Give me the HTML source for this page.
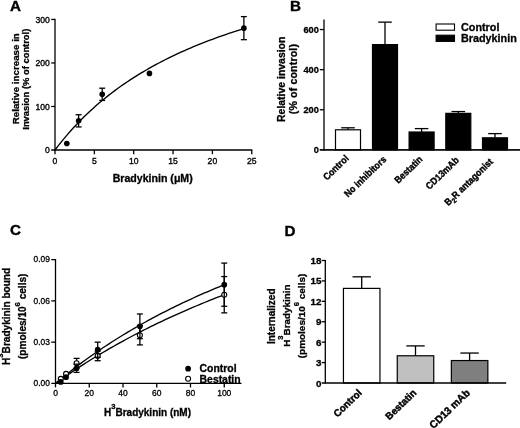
<!DOCTYPE html>
<html><head><meta charset="utf-8"><title>Figure</title>
<style>
html,body{margin:0;padding:0;background:#fff;}
body{width:520px;height:428px;overflow:hidden;}
svg{display:block;will-change:transform;}
text{font-family:"Liberation Sans",sans-serif;fill:#000;}
.b{font-weight:bold;stroke:#000;stroke-width:0.3px;}
.ax{stroke:#000;stroke-width:1.3;fill:none;}
.eb{stroke:#000;stroke-width:1.3;fill:none;}
.cv{stroke:#000;stroke-width:1.35;fill:none;}
</style></head><body>
<svg width="520" height="428" viewBox="0 0 520 428">
<rect width="520" height="428" fill="#fff"/>
<!-- Panel A -->
<text class="b" x="10.00" y="11.40" font-size="15.2" text-anchor="start" style="stroke:#000;stroke-width:0.4px">A</text>
<line class="ax" x1="55.00" y1="18.84" x2="55.00" y2="150.60"/>
<line class="ax" x1="51.20" y1="150.00" x2="252.35" y2="150.00"/>
<text x="49.80" y="153.10" font-size="8.6" text-anchor="end" style="stroke:#000;stroke-width:0.35px">0</text>
<line class="ax" x1="51.20" y1="106.48" x2="55.00" y2="106.48"/>
<text x="49.80" y="109.58" font-size="8.6" text-anchor="end" style="stroke:#000;stroke-width:0.35px">100</text>
<line class="ax" x1="51.20" y1="62.96" x2="55.00" y2="62.96"/>
<text x="49.80" y="66.06" font-size="8.6" text-anchor="end" style="stroke:#000;stroke-width:0.35px">200</text>
<line class="ax" x1="51.20" y1="19.44" x2="55.00" y2="19.44"/>
<text x="49.80" y="22.54" font-size="8.6" text-anchor="end" style="stroke:#000;stroke-width:0.35px">300</text>
<line class="ax" x1="55.00" y1="150.00" x2="55.00" y2="154.20"/>
<text x="55.00" y="163.50" font-size="8.6" text-anchor="middle" style="stroke:#000;stroke-width:0.35px">0</text>
<line class="ax" x1="94.35" y1="150.00" x2="94.35" y2="154.20"/>
<text x="94.35" y="163.50" font-size="8.6" text-anchor="middle" style="stroke:#000;stroke-width:0.35px">5</text>
<line class="ax" x1="133.70" y1="150.00" x2="133.70" y2="154.20"/>
<text x="133.70" y="163.50" font-size="8.6" text-anchor="middle" style="stroke:#000;stroke-width:0.35px">10</text>
<line class="ax" x1="173.05" y1="150.00" x2="173.05" y2="154.20"/>
<text x="173.05" y="163.50" font-size="8.6" text-anchor="middle" style="stroke:#000;stroke-width:0.35px">15</text>
<line class="ax" x1="212.40" y1="150.00" x2="212.40" y2="154.20"/>
<text x="212.40" y="163.50" font-size="8.6" text-anchor="middle" style="stroke:#000;stroke-width:0.35px">20</text>
<line class="ax" x1="251.75" y1="150.00" x2="251.75" y2="154.20"/>
<text x="251.75" y="163.50" font-size="8.6" text-anchor="middle" style="stroke:#000;stroke-width:0.35px">25</text>
<polyline class="cv" points="55.00,150.00 58.15,145.89 61.30,141.92 64.44,138.09 67.59,134.38 70.74,130.79 73.89,127.32 77.04,123.96 80.18,120.71 83.33,117.55 86.48,114.49 89.63,111.52 92.78,108.63 95.92,105.83 99.07,103.11 102.22,100.47 105.37,97.90 108.52,95.40 111.66,92.97 114.81,90.60 117.96,88.29 121.11,86.04 124.26,83.85 127.40,81.72 130.55,79.64 133.70,77.61 136.85,75.63 140.00,73.70 143.14,71.81 146.29,69.97 149.44,68.17 152.59,66.41 155.74,64.69 158.88,63.01 162.03,61.37 165.18,59.76 168.33,58.19 171.48,56.65 174.62,55.14 177.77,53.67 180.92,52.23 184.07,50.81 187.22,49.43 190.36,48.07 193.51,46.74 196.66,45.44 199.81,44.16 202.96,42.90 206.10,41.67 209.25,40.47 212.40,39.29 215.55,38.12 218.70,36.98 221.84,35.86 224.99,34.77 228.14,33.69 231.29,32.63 234.44,31.59 237.58,30.56 240.73,29.56 243.88,28.57"/>
<circle cx="66.81" cy="143.47" r="2.8" fill="#000"/>
<line class="eb" x1="78.61" y1="114.75" x2="78.61" y2="126.93"/>
<line class="eb" x1="75.61" y1="114.75" x2="81.61" y2="114.75"/>
<line class="eb" x1="75.61" y1="126.93" x2="81.61" y2="126.93"/>
<circle cx="78.61" cy="120.84" r="2.8" fill="#000"/>
<line class="eb" x1="102.22" y1="88.20" x2="102.22" y2="100.39"/>
<line class="eb" x1="99.22" y1="88.20" x2="105.22" y2="88.20"/>
<line class="eb" x1="99.22" y1="100.39" x2="105.22" y2="100.39"/>
<circle cx="102.22" cy="94.29" r="2.8" fill="#000"/>
<circle cx="149.44" cy="73.40" r="2.8" fill="#000"/>
<line class="eb" x1="243.88" y1="16.61" x2="243.88" y2="39.68"/>
<line class="eb" x1="240.88" y1="16.61" x2="246.88" y2="16.61"/>
<line class="eb" x1="240.88" y1="39.68" x2="246.88" y2="39.68"/>
<circle cx="243.88" cy="28.14" r="2.8" fill="#000"/>
<text class="b" transform="translate(18.50,78.70) rotate(-90)" font-size="9.75" text-anchor="middle">Relative increase in</text>
<text class="b" transform="translate(29.00,79.20) rotate(-90)" font-size="9.4" text-anchor="middle">Invasion (% of control)</text>
<text class="b" x="152.70" y="181.70" font-size="10.6" text-anchor="middle">Bradykinin (&#956;M)</text>
<!-- Panel B -->
<text class="b" x="290.00" y="11.30" font-size="15.2" text-anchor="start" style="stroke:#000;stroke-width:0.4px">B</text>
<line class="ax" x1="324.00" y1="19.50" x2="324.00" y2="150.45"/>
<line class="ax" x1="319.80" y1="149.85" x2="520.00" y2="149.85"/>
<text class="b" x="318.80" y="153.15" font-size="9.2" text-anchor="end" style="stroke:#000;stroke-width:0.3px">0</text>
<line class="ax" x1="319.80" y1="109.75" x2="324.00" y2="109.75"/>
<text class="b" x="318.80" y="113.05" font-size="9.2" text-anchor="end" style="stroke:#000;stroke-width:0.3px">200</text>
<line class="ax" x1="319.80" y1="69.65" x2="324.00" y2="69.65"/>
<text class="b" x="318.80" y="72.95" font-size="9.2" text-anchor="end" style="stroke:#000;stroke-width:0.3px">400</text>
<line class="ax" x1="319.80" y1="29.55" x2="324.00" y2="29.55"/>
<text class="b" x="318.80" y="32.85" font-size="9.2" text-anchor="end" style="stroke:#000;stroke-width:0.3px">600</text>
<line class="eb" x1="348.00" y1="127.79" x2="348.00" y2="129.80"/>
<line class="eb" x1="341.20" y1="127.79" x2="354.80" y2="127.79"/>
<rect x="335.50" y="129.80" width="25.0" height="20.05" fill="#fff" stroke="#000" stroke-width="1.2"/>
<text class="b" transform="translate(349.40,159.15) rotate(-44) scale(0.905,1)" font-size="9.7" text-anchor="end" style="stroke:#000;stroke-width:0.4px">Control</text>
<line class="eb" x1="385.00" y1="22.13" x2="385.00" y2="44.59"/>
<line class="eb" x1="378.20" y1="22.13" x2="391.80" y2="22.13"/>
<rect x="372.50" y="44.59" width="25.0" height="105.26" fill="#000" stroke="#000" stroke-width="1.2"/>
<text class="b" transform="translate(386.90,160.15) rotate(-44) scale(0.905,1)" font-size="9.7" text-anchor="end" style="stroke:#000;stroke-width:0.4px">No inhibitors</text>
<line class="eb" x1="421.60" y1="128.60" x2="421.60" y2="132.01"/>
<line class="eb" x1="414.80" y1="128.60" x2="428.40" y2="128.60"/>
<rect x="409.10" y="132.01" width="25.0" height="17.84" fill="#000" stroke="#000" stroke-width="1.2"/>
<text class="b" transform="translate(423.20,160.05) rotate(-44) scale(0.905,1)" font-size="9.7" text-anchor="end" style="stroke:#000;stroke-width:0.4px">Bestatin</text>
<line class="eb" x1="458.30" y1="111.55" x2="458.30" y2="113.36"/>
<line class="eb" x1="451.50" y1="111.55" x2="465.10" y2="111.55"/>
<rect x="445.80" y="113.36" width="25.0" height="36.49" fill="#000" stroke="#000" stroke-width="1.2"/>
<text class="b" transform="translate(459.70,160.85) rotate(-44) scale(0.905,1)" font-size="9.7" text-anchor="end" style="stroke:#000;stroke-width:0.4px">CD13mAb</text>
<line class="eb" x1="495.00" y1="133.61" x2="495.00" y2="137.82"/>
<line class="eb" x1="488.20" y1="133.61" x2="501.80" y2="133.61"/>
<rect x="482.50" y="137.82" width="25.0" height="12.03" fill="#000" stroke="#000" stroke-width="1.2"/>
<text class="b" transform="translate(493.70,162.45) rotate(-44) scale(0.905,1)" font-size="9.7" text-anchor="end" style="stroke:#000;stroke-width:0.4px">B<tspan dy="2.2" font-size="7">2</tspan><tspan dy="-2.2">R antagonist</tspan></text>
<line class="ax" x1="319.80" y1="149.85" x2="520.00" y2="149.85"/>
<rect x="436.1" y="24" width="18.4" height="6.2" fill="#fff" stroke="#000" stroke-width="1.1"/>
<rect x="436.1" y="35.2" width="18.4" height="6.2" fill="#000" stroke="#000" stroke-width="1.1"/>
<text class="b" x="461.00" y="30.60" font-size="10.8" text-anchor="start">Control</text>
<text class="b" x="461.00" y="41.90" font-size="10.8" text-anchor="start">Bradykinin</text>
<text class="b" transform="translate(285.40,79.30) rotate(-90)" font-size="10.45" text-anchor="middle">Relative invasion</text>
<text class="b" transform="translate(297.20,79.10) rotate(-90)" font-size="10.6" text-anchor="middle" letter-spacing="0.15">(% of control)</text>
<!-- Panel C -->
<text class="b" x="10.00" y="235.20" font-size="15.2" text-anchor="start" style="stroke:#000;stroke-width:0.4px">C</text>
<line class="ax" x1="55.50" y1="259.05" x2="55.50" y2="384.00"/>
<line class="ax" x1="51.30" y1="383.40" x2="241.50" y2="383.40"/>
<text x="49.90" y="386.00" font-size="8.4" text-anchor="end" style="stroke:#000;stroke-width:0.3px">0.00</text>
<line class="ax" x1="51.30" y1="342.15" x2="55.50" y2="342.15"/>
<text x="49.90" y="344.75" font-size="8.4" text-anchor="end" style="stroke:#000;stroke-width:0.3px">0.03</text>
<line class="ax" x1="51.30" y1="300.90" x2="55.50" y2="300.90"/>
<text x="49.90" y="303.50" font-size="8.4" text-anchor="end" style="stroke:#000;stroke-width:0.3px">0.06</text>
<line class="ax" x1="51.30" y1="259.65" x2="55.50" y2="259.65"/>
<text x="49.90" y="262.25" font-size="8.4" text-anchor="end" style="stroke:#000;stroke-width:0.3px">0.09</text>
<line class="ax" x1="55.50" y1="383.40" x2="55.50" y2="387.40"/>
<text x="55.50" y="396.30" font-size="8.5" text-anchor="middle" style="stroke:#000;stroke-width:0.3px">0</text>
<line class="ax" x1="89.25" y1="383.40" x2="89.25" y2="387.40"/>
<text x="89.25" y="396.30" font-size="8.5" text-anchor="middle" style="stroke:#000;stroke-width:0.3px">20</text>
<line class="ax" x1="123.00" y1="383.40" x2="123.00" y2="387.40"/>
<text x="123.00" y="396.30" font-size="8.5" text-anchor="middle" style="stroke:#000;stroke-width:0.3px">40</text>
<line class="ax" x1="156.75" y1="383.40" x2="156.75" y2="387.40"/>
<text x="156.75" y="396.30" font-size="8.5" text-anchor="middle" style="stroke:#000;stroke-width:0.3px">60</text>
<line class="ax" x1="190.50" y1="383.40" x2="190.50" y2="387.40"/>
<text x="190.50" y="396.30" font-size="8.5" text-anchor="middle" style="stroke:#000;stroke-width:0.3px">80</text>
<line class="ax" x1="224.25" y1="383.40" x2="224.25" y2="387.40"/>
<text x="224.25" y="396.30" font-size="8.5" text-anchor="middle" style="stroke:#000;stroke-width:0.3px">100</text>
<polyline class="cv" points="55.50,383.40 58.31,381.04 61.12,378.72 63.94,376.44 66.75,374.18 69.56,371.96 72.38,369.77 75.19,367.61 78.00,365.48 80.81,363.37 83.62,361.30 86.44,359.26 89.25,357.24 92.06,355.25 94.88,353.29 97.69,351.35 100.50,349.44 103.31,347.56 106.12,345.69 108.94,343.86 111.75,342.04 114.56,340.25 117.38,338.49 120.19,336.74 123.00,335.02 125.81,333.31 128.62,331.63 131.44,329.97 134.25,328.33 137.06,326.71 139.88,325.11 142.69,323.53 145.50,321.97 148.31,320.42 151.12,318.90 153.94,317.39 156.75,315.90 159.56,314.43 162.38,312.97 165.19,311.53 168.00,310.11 170.81,308.70 173.62,307.31 176.44,305.93 179.25,304.57 182.06,303.23 184.88,301.90 187.69,300.58 190.50,299.28 193.31,298.00 196.12,296.72 198.94,295.46 201.75,294.22 204.56,292.98 207.38,291.76 210.19,290.56 213.00,289.36 215.81,288.18 218.62,287.01 221.44,285.85 224.25,284.70"/>
<polyline class="cv" points="55.50,383.40 58.31,381.38 61.12,379.39 63.94,377.43 66.75,375.49 69.56,373.57 72.38,371.67 75.19,369.80 78.00,367.95 80.81,366.12 83.62,364.31 86.44,362.52 89.25,360.75 92.06,359.01 94.88,357.28 97.69,355.57 100.50,353.88 103.31,352.22 106.12,350.57 108.94,348.93 111.75,347.32 114.56,345.72 117.38,344.14 120.19,342.58 123.00,341.04 125.81,339.51 128.62,338.00 131.44,336.50 134.25,335.02 137.06,333.56 139.88,332.11 142.69,330.67 145.50,329.25 148.31,327.85 151.12,326.46 153.94,325.08 156.75,323.72 159.56,322.37 162.38,321.04 165.19,319.71 168.00,318.40 170.81,317.11 173.62,315.83 176.44,314.56 179.25,313.30 182.06,312.05 184.88,310.82 187.69,309.60 190.50,308.39 193.31,307.19 196.12,306.00 198.94,304.82 201.75,303.66 204.56,302.50 207.38,301.36 210.19,300.23 213.00,299.10 215.81,297.99 218.62,296.89 221.44,295.80 224.25,294.71"/>
<circle cx="60.77" cy="378.86" r="2.5" fill="#fff" stroke="#000" stroke-width="1.1"/>
<circle cx="66.05" cy="373.91" r="2.5" fill="#fff" stroke="#000" stroke-width="1.1"/>
<line class="eb" x1="76.59" y1="358.38" x2="76.59" y2="368.00"/>
<line class="eb" x1="73.59" y1="358.38" x2="79.59" y2="358.38"/>
<line class="eb" x1="73.59" y1="368.00" x2="79.59" y2="368.00"/>
<circle cx="76.59" cy="363.19" r="2.5" fill="#fff" stroke="#000" stroke-width="1.1"/>
<line class="eb" x1="97.69" y1="351.09" x2="97.69" y2="360.71"/>
<line class="eb" x1="94.69" y1="351.09" x2="100.69" y2="351.09"/>
<line class="eb" x1="94.69" y1="360.71" x2="100.69" y2="360.71"/>
<circle cx="97.69" cy="355.90" r="2.5" fill="#fff" stroke="#000" stroke-width="1.1"/>
<line class="eb" x1="139.88" y1="325.65" x2="139.88" y2="344.90"/>
<line class="eb" x1="136.88" y1="325.65" x2="142.88" y2="325.65"/>
<line class="eb" x1="136.88" y1="344.90" x2="142.88" y2="344.90"/>
<circle cx="139.88" cy="335.27" r="2.5" fill="#fff" stroke="#000" stroke-width="1.1"/>
<line class="eb" x1="224.25" y1="276.56" x2="224.25" y2="312.86"/>
<line class="eb" x1="221.25" y1="276.56" x2="227.25" y2="276.56"/>
<line class="eb" x1="221.25" y1="312.86" x2="227.25" y2="312.86"/>
<circle cx="224.25" cy="294.71" r="2.5" fill="#fff" stroke="#000" stroke-width="1.1"/>
<circle cx="60.77" cy="381.89" r="2.85" fill="#000"/>
<circle cx="66.05" cy="377.21" r="2.85" fill="#000"/>
<line class="eb" x1="76.59" y1="364.15" x2="76.59" y2="372.40"/>
<line class="eb" x1="73.59" y1="364.15" x2="79.59" y2="364.15"/>
<line class="eb" x1="73.59" y1="372.40" x2="79.59" y2="372.40"/>
<circle cx="76.59" cy="368.27" r="2.85" fill="#000"/>
<line class="eb" x1="97.69" y1="342.15" x2="97.69" y2="357.27"/>
<line class="eb" x1="94.69" y1="342.15" x2="100.69" y2="342.15"/>
<line class="eb" x1="94.69" y1="357.27" x2="100.69" y2="357.27"/>
<circle cx="97.69" cy="349.71" r="2.85" fill="#000"/>
<line class="eb" x1="139.88" y1="313.96" x2="139.88" y2="338.71"/>
<line class="eb" x1="136.88" y1="313.96" x2="142.88" y2="313.96"/>
<line class="eb" x1="136.88" y1="338.71" x2="142.88" y2="338.71"/>
<circle cx="139.88" cy="326.34" r="2.85" fill="#000"/>
<line class="eb" x1="224.25" y1="263.09" x2="224.25" y2="306.26"/>
<line class="eb" x1="221.25" y1="263.09" x2="227.25" y2="263.09"/>
<line class="eb" x1="221.25" y1="306.26" x2="227.25" y2="306.26"/>
<circle cx="224.25" cy="284.67" r="2.85" fill="#000"/>
<circle cx="188.1" cy="368.7" r="2.85" fill="#000"/>
<circle cx="188.1" cy="378.8" r="2.5" fill="#fff" stroke="#000" stroke-width="1.1"/>
<text class="b" x="199.60" y="372.00" font-size="10.4" text-anchor="start">Control</text>
<text class="b" x="199.60" y="382.60" font-size="10.4" text-anchor="start">Bestatin</text>
<text class="b" transform="translate(9.60,316.40) rotate(-90)" font-size="10.07" text-anchor="middle">H<tspan dy="-6.24" font-size="7.7">3</tspan><tspan dy="6.24">Bradykinin bound</tspan></text>
<text class="b" transform="translate(26.20,316.30) rotate(-90)" font-size="10.07" text-anchor="middle">(pmoles/10<tspan dy="-6.24" font-size="7.7">6</tspan><tspan dy="6.24"> cells)</tspan></text>
<text class="b" x="147.50" y="415.60" font-size="10.0" text-anchor="middle">H<tspan dy="-6.20" font-size="7.6">3</tspan><tspan dy="6.20">Bradykinin (nM)</tspan></text>
<!-- Panel D -->
<text class="b" x="284.40" y="236.20" font-size="15.2" text-anchor="start" style="stroke:#000;stroke-width:0.4px">D</text>
<line class="ax" x1="325.30" y1="259.88" x2="325.30" y2="383.60"/>
<text class="b" x="321.50" y="386.50" font-size="9.8" text-anchor="end">0</text>
<line class="ax" x1="321.70" y1="362.58" x2="325.30" y2="362.58"/>
<text class="b" x="321.50" y="366.08" font-size="9.8" text-anchor="end">3</text>
<line class="ax" x1="321.70" y1="342.16" x2="325.30" y2="342.16"/>
<text class="b" x="321.50" y="345.66" font-size="9.8" text-anchor="end">6</text>
<line class="ax" x1="321.70" y1="321.74" x2="325.30" y2="321.74"/>
<text class="b" x="321.50" y="325.24" font-size="9.8" text-anchor="end">9</text>
<line class="ax" x1="321.70" y1="301.32" x2="325.30" y2="301.32"/>
<text class="b" x="321.50" y="304.82" font-size="9.8" text-anchor="end">12</text>
<line class="ax" x1="321.70" y1="280.90" x2="325.30" y2="280.90"/>
<text class="b" x="321.50" y="284.40" font-size="9.8" text-anchor="end">15</text>
<line class="ax" x1="321.70" y1="260.48" x2="325.30" y2="260.48"/>
<text class="b" x="321.50" y="263.98" font-size="9.8" text-anchor="end">18</text>
<line class="eb" x1="361.70" y1="276.82" x2="361.70" y2="288.39"/>
<line class="eb" x1="352.50" y1="276.82" x2="370.90" y2="276.82"/>
<rect x="343.45" y="288.39" width="36.5" height="94.61" fill="#fff" stroke="#000" stroke-width="1.2"/>
<text class="b" transform="translate(362.40,393.60) rotate(-44) scale(0.97,1)" font-size="10.1" text-anchor="end" style="stroke:#000;stroke-width:0.45px">Control</text>
<line class="eb" x1="415.50" y1="345.90" x2="415.50" y2="355.77"/>
<line class="eb" x1="406.30" y1="345.90" x2="424.70" y2="345.90"/>
<rect x="397.25" y="355.77" width="36.5" height="27.23" fill="#c0c0c0" stroke="#000" stroke-width="1.2"/>
<text class="b" transform="translate(417.10,393.60) rotate(-44) scale(0.97,1)" font-size="10.1" text-anchor="end" style="stroke:#000;stroke-width:0.45px">Bestatin</text>
<line class="eb" x1="469.60" y1="353.05" x2="469.60" y2="360.54"/>
<line class="eb" x1="460.40" y1="353.05" x2="478.80" y2="353.05"/>
<rect x="451.35" y="360.54" width="36.5" height="22.46" fill="#7f7f7f" stroke="#000" stroke-width="1.2"/>
<text class="b" transform="translate(470.60,393.60) rotate(-44) scale(0.97,1)" font-size="10.5" text-anchor="end" style="stroke:#000;stroke-width:0.45px">CD13 mAb</text>
<line class="ax" x1="321.70" y1="383.00" x2="506.20" y2="383.00"/>
<text class="b" transform="translate(275.20,316.30) rotate(-90)" font-size="10" text-anchor="middle">Internalized</text>
<text class="b" transform="translate(289.50,315.60) rotate(-90)" font-size="9.9" text-anchor="middle">H<tspan dy="-6.14" font-size="7.5">3</tspan><tspan dy="6.14">Bradykinin</tspan></text>
<text class="b" transform="translate(305.20,316.00) rotate(-90)" font-size="9.97" text-anchor="middle">(pmoles/10<tspan dy="-6.18" font-size="7.6">6</tspan><tspan dy="6.18"> cells)</tspan></text>
</svg>
</body></html>
